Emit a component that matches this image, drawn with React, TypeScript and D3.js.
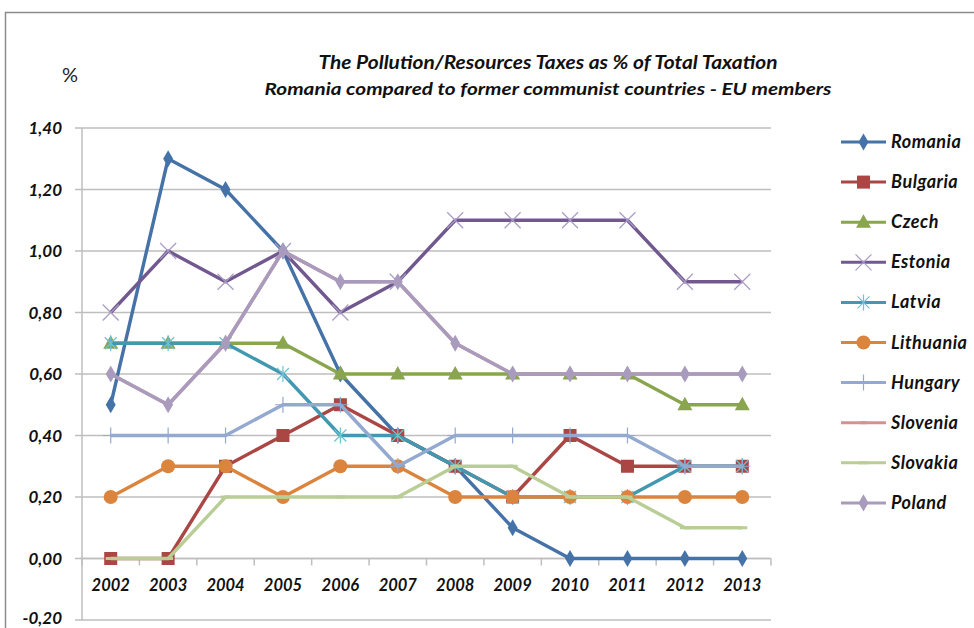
import React from "react";
import * as d3 from "d3";

const years = ["2002","2003","2004","2005","2006","2007","2008","2009","2010","2011","2012","2013"];
const yTicks = [-0.2, 0, 0.2, 0.4, 0.6, 0.8, 1.0, 1.2, 1.4];

const romania   = [0.5, 1.3, 1.2, 1.0, 0.6, 0.4, 0.3, 0.1, 0.0, 0.0, 0.0, 0.0];
const bulgaria  = [0.0, 0.0, 0.3, 0.4, 0.5, 0.4, 0.3, 0.2, 0.4, 0.3, 0.3, 0.3];
const czech     = [0.7, 0.7, 0.7, 0.7, 0.6, 0.6, 0.6, 0.6, 0.6, 0.6, 0.5, 0.5];
const estonia   = [0.8, 1.0, 0.9, 1.0, 0.8, 0.9, 1.1, 1.1, 1.1, 1.1, 0.9, 0.9];
const latvia    = [0.7, 0.7, 0.7, 0.6, 0.4, 0.4, 0.3, 0.2, 0.2, 0.2, 0.3, 0.3];
const lithuania = [0.2, 0.3, 0.3, 0.2, 0.3, 0.3, 0.2, 0.2, 0.2, 0.2, 0.2, 0.2];
const hungary   = [0.4, 0.4, 0.4, 0.5, 0.5, 0.3, 0.4, 0.4, 0.4, 0.4, 0.3, 0.3];
const slovenia  = [0.6, 0.5, 0.7, 1.0, 0.9, 0.9, 0.7, 0.6, 0.6, 0.6, 0.6, 0.6];
const slovakia  = [0.0, 0.0, 0.2, 0.2, 0.2, 0.2, 0.3, 0.3, 0.2, 0.2, 0.1, 0.1];
const poland    = [0.6, 0.5, 0.7, 1.0, 0.9, 0.9, 0.7, 0.6, 0.6, 0.6, 0.6, 0.6];

const seriesNames = ["Romania","Bulgaria","Czech","Estonia","Latvia","Lithuania","Hungary","Slovenia","Slovakia","Poland"];
const seriesValues = [romania, bulgaria, czech, estonia, latvia, lithuania, hungary, slovenia, slovakia, poland];
const seriesColors = ["#4572A7","#AA4643","#89A54E","#71588F","#4198AF","#DB843D","#93A9CF","#D19392","#B9CD96","#A99BBD"];
const markerColors = ["#4572A7","#AA4643","#89A54E","#A99BC6","#6FC0D4","#DB843D","#93A9CF","#D19392","#B9CD96","#A99BBD"];
const markerKinds = ["diamond","square","triangle","x","asterisk","circle","plus","dash","longdash","diamond"];

const W = 974, H = 628;
const plot = { left: 82, right: 771, top: 128, bottom: 620 };
const FONT = "Lato, 'Open Sans', sans-serif";

function Marker({ kind, x, y, color }: { kind: string; x: number; y: number; color: string }) {
  switch (kind) {
    case "diamond":
      return <path d={d3.symbol(d3.symbolDiamond, 85)() as string} transform={`translate(${x},${y})`} fill={color} />;
    case "square":
      return <rect x={x - 6.5} y={y - 6.5} width={13} height={13} fill={color} />;
    case "triangle":
      return <path d={`M${x},${y - 8}L${x + 7.5},${y + 5.5}L${x - 7.5},${y + 5.5}Z`} fill={color} />;
    case "circle":
      return <circle cx={x} cy={y} r={7} fill={color} />;
    case "x":
      return <path d={`M${x - 8},${y - 8}L${x + 8},${y + 8}M${x - 8},${y + 8}L${x + 8},${y - 8}`} stroke={color} strokeWidth={1.2} />;
    case "asterisk":
      return <path d={`M${x - 6},${y - 6}L${x + 6},${y + 6}M${x - 6},${y + 6}L${x + 6},${y - 6}M${x},${y - 8}L${x},${y + 8}`} stroke={color} strokeWidth={1.2} />;
    case "plus":
      return <path d={`M${x},${y - 8}L${x},${y + 8}M${x - 8},${y}L${x + 8},${y}`} stroke={color} strokeWidth={1.2} />;
    case "dash":
      return <rect x={x - 3} y={y - 1.5} width={6} height={3} fill={color} />;
    case "longdash":
      return <rect x={x - 5} y={y - 1.5} width={10} height={3} fill={color} />;
    default:
      return null;
  }
}

export default function App() {
  const xBand = d3.scaleBand<string>().domain(years).range([plot.left, plot.right]).padding(0);
  const cx = (yr: string) => (xBand(yr) as number) + xBand.bandwidth() / 2;
  const y = d3.scaleLinear().domain([-0.2, 1.4]).range([plot.bottom, plot.top]);
  const fmt = (v: number) => d3.format(".2f")(v).replace(".", ",").replace("\u2212", "-");
  const line = d3.line<number>().x((_, i) => cx(years[i])).y((v) => y(v));
  const gridColor = "#BEBEBE";
  const y0 = y(0);

  return (
    <svg width={W} height={H} style={{ position: "absolute", left: 0, top: 0, background: "#fff" }} fontFamily={FONT}>
      <rect x={0} y={0} width={W} height={H} fill="#fff" />
      <rect x={5.5} y={12.5} width={1200} height={800} fill="none" stroke="#8C8C8C" strokeWidth={1.5} />

      <text x={70} y={82} fontSize={20} textAnchor="middle" fill="#222">%</text>
      <text x={548} y={69} fontSize={18} fontWeight="bold" fontStyle="italic" textAnchor="middle" fill="#111"
        textLength={459} lengthAdjust="spacingAndGlyphs">
        The Pollution/Resources Taxes as % of Total Taxation
      </text>
      <text x={548} y={95} fontSize={17} fontWeight="bold" fontStyle="italic" textAnchor="middle" fill="#111"
        textLength={567} lengthAdjust="spacingAndGlyphs">
        Romania compared to former communist countries -  EU members
      </text>

      {yTicks.map((t) => (
        <g key={t}>
          <line x1={plot.left - 7} x2={plot.right} y1={y(t)} y2={y(t)} stroke={gridColor} strokeWidth={1.5} />
          <text x={62} y={t < 0 ? y(t) + 4 : y(t) + 6} fontSize={17} fontWeight="bold" fontStyle="italic" textAnchor="end" fill="#111">
            {fmt(t)}
          </text>
        </g>
      ))}
      <line x1={plot.left} x2={plot.left} y1={plot.top} y2={plot.bottom} stroke={gridColor} strokeWidth={1.5} />
      <line x1={plot.left} x2={plot.right} y1={y0} y2={y0} stroke={gridColor} strokeWidth={1.5} />
      {[...years.map((yr) => xBand(yr) as number), plot.right].map((xv, i) => (
        <line key={i} x1={xv} x2={xv} y1={y0} y2={y0 + 7} stroke={gridColor} strokeWidth={1.5} />
      ))}
      {years.map((yr) => (
        <text key={yr} x={cx(yr)} y={y0 + 32} fontSize={16.5} fontWeight="bold" fontStyle="italic" textAnchor="middle" fill="#111">
          {yr}
        </text>
      ))}

      {seriesNames.map((name, si) => (
        <g key={name}>
          <path d={line(seriesValues[si]) as string} fill="none" stroke={seriesColors[si]} strokeWidth={3.4} strokeLinejoin="round" />
          {seriesValues[si].map((v, i) => (
            <Marker key={i} kind={markerKinds[si]} x={cx(years[i])} y={y(v)} color={markerColors[si]} />
          ))}
        </g>
      ))}

      {seriesNames.map((name, si) => {
        const ly = 142 + si * 40.1;
        return (
          <g key={"lg" + name}>
            <line x1={841} x2={886} y1={ly} y2={ly} stroke={seriesColors[si]} strokeWidth={3} />
            <Marker kind={markerKinds[si]} x={863.5} y={ly} color={markerColors[si]} />
            <text x={891} y={ly + 6} fontSize={18} letterSpacing={0.5} fontWeight="bold" fontStyle="italic" fill="#111">{name}</text>
          </g>
        );
      })}
    </svg>
  );
}
